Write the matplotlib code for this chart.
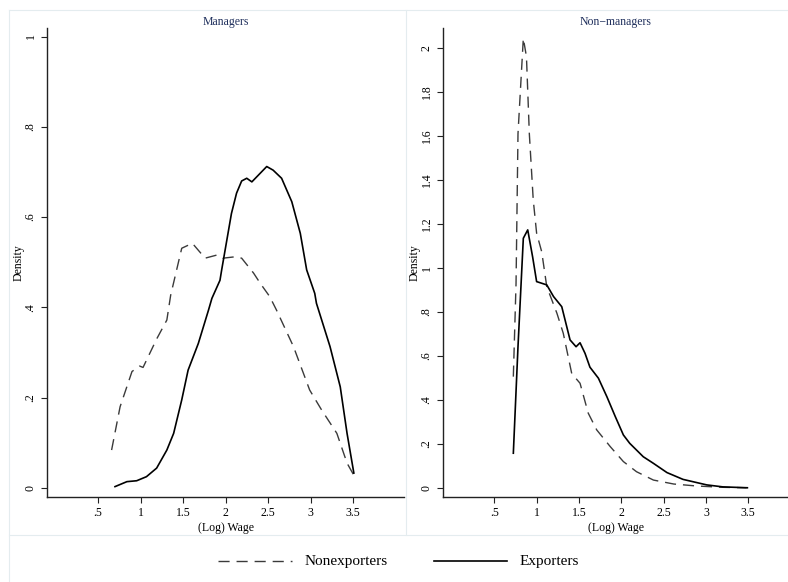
import matplotlib
matplotlib.use("Agg")
import matplotlib.pyplot as plt
from matplotlib.lines import Line2D

# ---- data ----
mgr_nonexp_x = [0.66, 0.76, 0.90, 0.99, 1.03, 1.19, 1.31, 1.355, 1.485, 1.61, 1.76, 1.90, 1.97,
                2.11, 2.19, 2.33, 2.41, 2.52, 2.60, 2.80, 2.99, 3.13, 3.31, 3.43, 3.54]
mgr_nonexp_y = [0.084, 0.18, 0.258, 0.27, 0.267, 0.33, 0.372, 0.427, 0.531, 0.542, 0.509, 0.516, 0.509,
                0.512, 0.509, 0.476, 0.453, 0.424, 0.394, 0.313, 0.217, 0.173, 0.121, 0.055, 0.018]

mgr_exp_x = [0.70, 0.84, 0.955, 1.07, 1.19, 1.31, 1.39, 1.485, 1.56, 1.68, 1.80, 1.84, 1.935, 1.955,
             2.07, 2.13, 2.19, 2.25, 2.31, 2.485, 2.56, 2.66, 2.78, 2.88, 2.955, 3.05, 3.07, 3.23,
             3.35, 3.43, 3.51]
mgr_exp_y = [0.003, 0.014, 0.016, 0.025, 0.044, 0.084, 0.121, 0.195, 0.261, 0.32, 0.394, 0.42, 0.46, 0.483,
             0.608, 0.653, 0.68, 0.686, 0.678, 0.712, 0.704, 0.686, 0.634, 0.564, 0.483, 0.431, 0.409, 0.313,
             0.224, 0.121, 0.033]

non_nonexp_x = [0.725, 0.757, 0.78, 0.843, 0.88, 0.914, 0.96, 1.0, 1.06, 1.12, 1.24, 1.315, 1.415,
                1.513, 1.61, 1.71, 1.87, 2.025, 2.18, 2.38, 2.62, 2.89, 3.2, 3.48]
non_nonexp_y = [0.506, 0.93, 1.61, 2.044, 1.96, 1.61, 1.31, 1.158, 1.074, 0.915, 0.794, 0.703, 0.52,
                0.476, 0.34, 0.264, 0.188, 0.12, 0.074, 0.036, 0.018, 0.009, 0.003, 0.001]

non_exp_x = [0.725, 0.78, 0.843, 0.895, 0.953, 1.0, 1.12, 1.2, 1.297, 1.395, 1.466, 1.513, 1.572,
             1.63, 1.73, 1.83, 1.93, 2.025, 2.1, 2.26, 2.38, 2.54, 2.73, 3.01, 3.2, 3.49]
non_exp_y = [0.158, 0.642, 1.135, 1.173, 1.05, 0.938, 0.923, 0.87, 0.824, 0.673, 0.642, 0.66, 0.612,
             0.549, 0.499, 0.415, 0.324, 0.241, 0.203, 0.142, 0.112, 0.07, 0.039, 0.014, 0.005, 0.001]

x_ticks = [0.5, 1, 1.5, 2, 2.5, 3, 3.5]
x_ticklabels = [".5", "1", "1.5", "2", "2.5", "3", "3.5"]
y_ticks_left = [0, 0.2, 0.4, 0.6, 0.8, 1.0]
y_ticklabels_left = ["0", ".2", ".4", ".6", ".8", "1"]
y_ticks_right = [0, 0.2, 0.4, 0.6, 0.8, 1.0, 1.2, 1.4, 1.6, 1.8, 2.0]
y_ticklabels_right = ["0", ".2", ".4", ".6", ".8", "1", "1.2", "1.4", "1.6", "1.8", "2"]

titles = ["Managers", "Non\u2212managers"]
series_names = ["Nonexporters", "Exporters"]

plt.rcParams['font.family'] = ['Liberation Serif', 'DejaVu Serif']

W, H = 788, 582
fig = plt.figure(figsize=(W / 100, H / 100), dpi=100)
fig.patch.set_facecolor("white")

def px_axes(x0, x1, ytop, ybot):
    return fig.add_axes([x0 / W, 1 - ybot / H, (x1 - x0) / W, (ybot - ytop) / H])

ax1 = px_axes(47, 404, 27.7, 497)
ax2 = px_axes(443, 788, 27.7, 497)

dash_kw = dict(color="#3a3a3a", lw=1.0, dashes=(8, 5))
solid_kw = dict(color="black", lw=1.2)

ax1.plot(mgr_nonexp_x, mgr_nonexp_y, **dash_kw)
ax1.plot(mgr_exp_x, mgr_exp_y, **solid_kw)
ax2.plot(non_nonexp_x, non_nonexp_y, **dash_kw)
ax2.plot(non_exp_x, non_exp_y, **solid_kw)

ax1.set_xlim(-0.1, 4.1)
ax1.set_ylim(-0.02, 1.0195)
ax2.set_xlim(-0.106, 3.97)
ax2.set_ylim(-0.041, 2.092)

for ax, yt, ytl, title in [(ax1, y_ticks_left, y_ticklabels_left, titles[0]),
                            (ax2, y_ticks_right, y_ticklabels_right, titles[1])]:
    ax.set_facecolor("white")
    for s in ["top", "right"]:
        ax.spines[s].set_visible(False)
    for s in ["left", "bottom"]:
        ax.spines[s].set_linewidth(1.0)
        ax.spines[s].set_color("#222222")
    ax.set_xticks(x_ticks)
    ax.set_xticklabels(x_ticklabels)
    ax.set_yticks(yt)
    ax.set_yticklabels(ytl, rotation=90, va="center")
    ax.tick_params(direction="out", length=4.5, width=0.8, labelsize=8.5, color="#222222", pad=3)
    ax.set_xlabel("(Log) Wage", fontsize=8.5, labelpad=2)
    ax.set_ylabel("Density", fontsize=8.5, labelpad=0)
    ax.set_title(title, fontsize=8.5, color="#1f2f5c", pad=2)

# faint panel borders
bc = "#e4ecef"
def fline(x0, y0, x1, y1):
    fig.add_artist(Line2D([x0 / W, x1 / W], [1 - y0 / H, 1 - y1 / H], color=bc, lw=0.8))

fline(9, 10, W, 10)
fline(9, 10, 9, H)
fline(405.7, 10, 405.7, 535)
fline(9, 535, W, 535)

# legend
fig.add_artist(Line2D([218 / W, 292 / W], [1 - 561 / H] * 2, **dash_kw))
fig.text(305 / W, 1 - 561 / H, series_names[0], fontsize=11, va="center", ha="left")
fig.add_artist(Line2D([434 / W, 507 / W], [1 - 561 / H] * 2, **solid_kw))
fig.text(520 / W, 1 - 561 / H, series_names[1], fontsize=11, va="center", ha="left")

fig.savefig("out.png", dpi=100, facecolor="white")
